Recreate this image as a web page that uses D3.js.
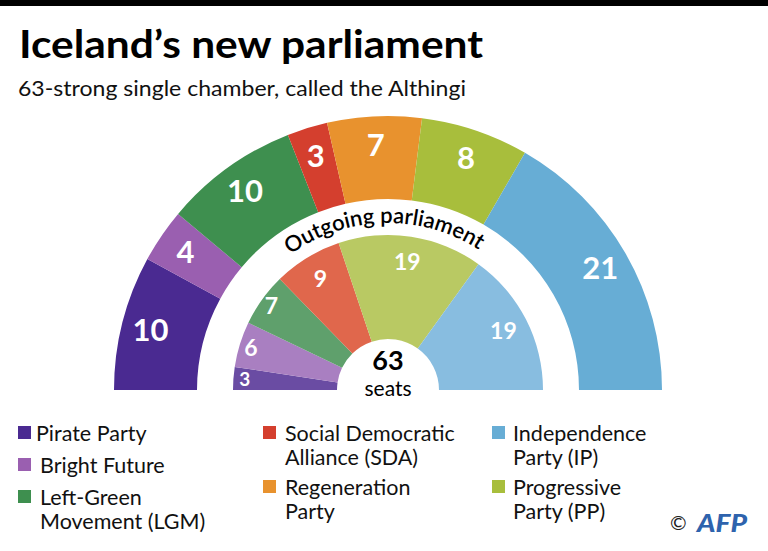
<!DOCTYPE html>
<html>
<head>
<meta charset="utf-8">
<script src="https://cdn.jsdelivr.net/npm/d3@7"></script>
<style>
  body { margin: 0; background: #fff; }
  svg { display: block; font-family: Lato, "Noto Sans", sans-serif; }
</style>
</head>
<body>
<div class="chart"></div>
<script>
// parties in arc order, left to right
const parties = ["Pirate Party", "Bright Future", "Left-Green Movement (LGM)",
  "Social Democratic Alliance (SDA)", "Regeneration Party",
  "Progressive Party (PP)", "Independence Party (IP)"];
const newSeats = [10, 4, 10, 3, 7, 8, 21];
const oldSeats = [3, 6, 7, 9, 0, 19, 19];
const newColors = ["#4a2a91", "#9a5fb0", "#3e8f4f", "#d43f2e", "#e8922e", "#a8be3c", "#67add5"];
const oldColors = ["#6a4ca3", "#a97fc1", "#5fa06c", "#e0674c", "#eda55a", "#b9c963", "#88bde0"];

// legend columns (index into parties) and wrapped label lines
const legendCols = [[0, 1, 2], [3, 4], [6, 5]];
const legendLines = [["Pirate Party"], ["Bright Future"], ["Left-Green", "Movement (LGM)"],
  ["Social Democratic", "Alliance (SDA)"], ["Regeneration", "Party"],
  ["Progressive", "Party (PP)"], ["Independence", "Party (IP)"]];

const width = 768, height = 551;
const cx = 388, cy = 390;

const svg = d3.select(".chart").append("svg")
  .attr("width", width)
  .attr("height", height);

svg.append("rect").attr("width", width).attr("height", 6).attr("fill", "#000");

svg.append("text")
  .attr("x", 19).attr("y", 58)
  .attr("textLength", 464).attr("lengthAdjust", "spacingAndGlyphs")
  .style("font-size", "39px").style("font-weight", 700)
  .text("Iceland\u2019s new parliament");

svg.append("text")
  .attr("x", 18).attr("y", 96)
  .attr("textLength", 448).attr("lengthAdjust", "spacingAndGlyphs")
  .style("font-size", "22px").attr("fill", "#111")
  .text("63-strong single chamber, called the Althingi");

const pie = d3.pie().sort(null).value(d => d)
  .startAngle(-Math.PI / 2).endAngle(Math.PI / 2);

const g = svg.append("g").attr("transform", "translate(" + cx + "," + cy + ")");

// outer ring: new parliament
const outerArc = d3.arc().innerRadius(191).outerRadius(274);
const outerLabel = d3.arc().innerRadius(245).outerRadius(245);
const outer = g.selectAll(".outer")
  .data(pie(newSeats))
  .enter().append("g")
  .attr("class", "outer");

outer.append("path")
  .attr("d", outerArc)
  .attr("fill", (d, i) => newColors[i]);

outer.append("text")
  .attr("transform", d => "translate(" + outerLabel.centroid(d) + ")")
  .attr("text-anchor", "middle")
  .attr("dy", ".36em")
  .attr("fill", "#fff")
  .style("font-size", "31px").style("font-weight", 700)
  .text(d => d.value);

// inner ring: outgoing parliament
const innerArc = d3.arc().innerRadius(51).outerRadius(155);
const innerLabel = d3.arc().innerRadius(138).outerRadius(138);
const inner = g.selectAll(".inner")
  .data(pie(oldSeats).filter(d => d.value > 0))
  .enter().append("g")
  .attr("class", "inner");

inner.append("path")
  .attr("d", innerArc)
  .attr("fill", d => oldColors[d.index]);

inner.append("text")
  .attr("transform", d => {
    const c = innerLabel.centroid(d);
    const k = d.value < 8 ? 1.04 : 0.94;
    return "translate(" + c[0] * k + "," + c[1] * k + ")";
  })
  .attr("text-anchor", "middle")
  .attr("dy", ".35em")
  .attr("fill", "#fff")
  .style("font-size", d => d.value < 5 ? "19px" : "23px").style("font-weight", 700)
  .text(d => d.value);

// curved caption
const captionR = 167;
g.append("path")
  .attr("id", "caption-path")
  .attr("fill", "none")
  .attr("d", d3.arc().innerRadius(captionR).outerRadius(captionR)
    .startAngle(-Math.PI / 2).endAngle(Math.PI / 2)());

g.append("text")
  .style("font-size", "22px").style("font-weight", 600)
  .attr("fill", "#000")
  .append("textPath")
  .attr("href", "#caption-path")
  .attr("startOffset", "24.6%")
  .attr("text-anchor", "middle")
  .text("Outgoing parliament");

g.append("text")
  .attr("y", -20).attr("text-anchor", "middle")
  .style("font-size", "27px").style("font-weight", 700)
  .text(d3.sum(oldSeats));

g.append("text")
  .attr("y", 6).attr("text-anchor", "middle")
  .style("font-size", "21px")
  .text("seats");

// legend
const colX = [[18, 36], [263, 285], [492, 513]];
const legend = svg.append("g").attr("class", "legend");
legendCols.forEach((col, ci) => {
  let y = 441;
  col.forEach(pi => {
    const item = legend.append("g");
    item.append("rect")
      .attr("x", colX[ci][0]).attr("y", y - 15)
      .attr("width", 13).attr("height", 13)
      .attr("fill", newColors[pi]);
    legendLines[pi].forEach((line, li) => {
      item.append("text")
        .attr("x", colX[ci][1] + (ci === 0 && pi > 0 ? 4 : 0))
        .attr("y", y + li * 24)
        .style("font-size", "21.5px").attr("fill", "#111")
        .text(line);
    });
    y += legendLines[pi].length * 24 + (legendLines[pi].length > 1 ? 6 : 8);
  });
});

// credit
svg.append("text")
  .attr("x", 670).attr("y", 530)
  .style("font-size", "20px").attr("fill", "#222")
  .text("\u00a9");
svg.append("text")
  .attr("x", 697).attr("y", 532)
  .attr("textLength", 50).attr("lengthAdjust", "spacingAndGlyphs")
  .style("font-size", "24px").style("font-weight", 900).style("font-style", "italic")
  .attr("fill", "#2e63ad")
  .text("AFP");
</script>
</body>
</html>
